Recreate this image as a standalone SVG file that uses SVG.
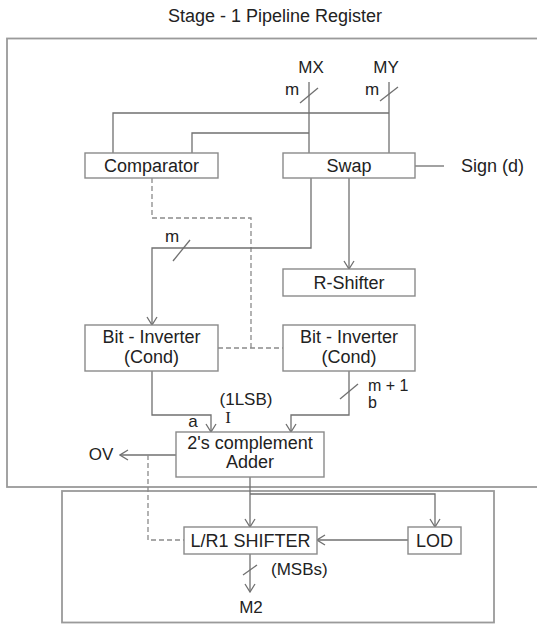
<svg xmlns="http://www.w3.org/2000/svg" width="537" height="624" viewBox="0 0 537 624">
<defs>
<style>
text{font-family:"Liberation Sans",Arial,sans-serif;fill:#222;}
.lbl{font-size:18px;text-anchor:middle;}
.sm{font-size:17px;}
.box{fill:#fff;stroke:#8a8a8a;stroke-width:1.4;}
.frame{fill:none;stroke:#9a9a9a;stroke-width:1.8;}
.ln{fill:none;stroke:#707070;stroke-width:1.3;}
.ar{marker-end:url(#arr);}
.dash{fill:none;stroke:#8a8a8a;stroke-width:1.3;stroke-dasharray:5 3;}
</style>
<marker id="arr" viewBox="-9 -6 10 12" refX="0" refY="0" markerWidth="10" markerHeight="12" markerUnits="userSpaceOnUse" orient="auto">
<path d="M-8,-5 L0,0 L-8,5" fill="none" stroke="#707070" stroke-width="1.3"/>
</marker>
</defs>
<rect width="537" height="624" fill="#fff"/>
<text x="275" y="22" class="lbl">Stage - 1 Pipeline Register</text>
<rect class="frame" x="7" y="38.5" width="545" height="448.5"/>
<rect class="frame" x="62" y="491" width="432" height="131.5"/>

<g id="connectors">
<path class="ln" d="M309,82 V153"/>
<path class="ln" d="M389,82 V153"/>
<path class="ln" d="M389,113 H113 V153"/>
<path class="ln" d="M309,133 H192 V153"/>
<path class="ln" d="M415,166 H444"/>
<path class="dash" d="M152,178 V218 H251 V348"/>
<path class="dash" d="M218,348 H283"/>
<path class="ln ar" d="M311,178 V248 H152 V325"/>
<path class="ln ar" d="M349,178 V269"/>
<path class="ln ar" d="M152,371 V415 H211 V432"/>
<path class="ln ar" d="M349,371 V415 H291 V432"/>
<path class="ln ar" d="M176,455 H120"/>
<path class="dash" d="M148,455 V540 H184"/>
<path class="ln ar" d="M250,477 V527"/>
<path class="ln ar" d="M250,494 H435 V527"/>
<path class="ln ar" d="M408,540 H317"/>
<path class="ln ar" d="M250,554 V592"/>
<path class="ln" d="M300,103 L318,88"/>
<path class="ln" d="M380,101 L398,87"/>
<path class="ln" d="M173,261 L190,240"/>
<path class="ln" d="M340,399 L358,384"/>
<path class="ln" d="M243,575 L257,565"/>
</g>

<g id="labels">
<text x="311" y="73" class="lbl sm">MX</text>
<text x="386" y="73" class="lbl sm">MY</text>
<text x="292" y="95" class="lbl sm">m</text>
<text x="372" y="95" class="lbl sm">m</text>
<text x="461" y="172" font-size="18">Sign (d)</text>
<text x="172" y="242" class="lbl sm">m</text>
<text x="368" y="391" font-size="16">m + 1</text>
<text x="368" y="408" font-size="16">b</text>
<text x="246" y="405" class="lbl sm">(1LSB)</text>
<text x="228" y="423" font-size="17" text-anchor="middle" style="font-family:'Liberation Serif',serif">I</text>
<text x="193" y="427" class="lbl sm">a</text>
<text x="101" y="460" class="lbl sm">OV</text>
<text x="271" y="575" class="sm">(MSBs)</text>
<text x="251" y="613" class="lbl sm">M2</text>
</g>

<g id="comparator">
<rect class="box" x="85" y="153" width="133" height="25"/>
<text x="151.5" y="172" class="lbl">Comparator</text>
</g>
<g id="swap">
<rect class="box" x="283" y="153" width="132" height="25"/>
<text x="349" y="172" class="lbl">Swap</text>
</g>
<g id="r-shifter">
<rect class="box" x="283" y="269" width="132" height="27"/>
<text x="349" y="289" class="lbl">R-Shifter</text>
</g>
<g id="bit-inverter-left">
<rect class="box" x="85" y="325" width="133" height="46"/>
<text x="151.5" y="343" class="lbl">Bit - Inverter</text>
<text x="151.5" y="363" class="lbl">(Cond)</text>
</g>
<g id="bit-inverter-right">
<rect class="box" x="283" y="325" width="132" height="46"/>
<text x="349" y="343" class="lbl">Bit - Inverter</text>
<text x="349" y="363" class="lbl">(Cond)</text>
</g>
<g id="adder">
<rect class="box" x="176" y="432" width="148" height="45"/>
<text x="250" y="449" class="lbl">2's complement</text>
<text x="250" y="468" class="lbl">Adder</text>
</g>
<g id="lr1-shifter">
<rect class="box" x="184" y="527" width="133" height="27"/>
<text x="250.5" y="547" class="lbl">L/R1 SHIFTER</text>
</g>
<g id="lod">
<rect class="box" x="408" y="527" width="53" height="27"/>
<text x="434.5" y="547" class="lbl">LOD</text>
</g>
</svg>
